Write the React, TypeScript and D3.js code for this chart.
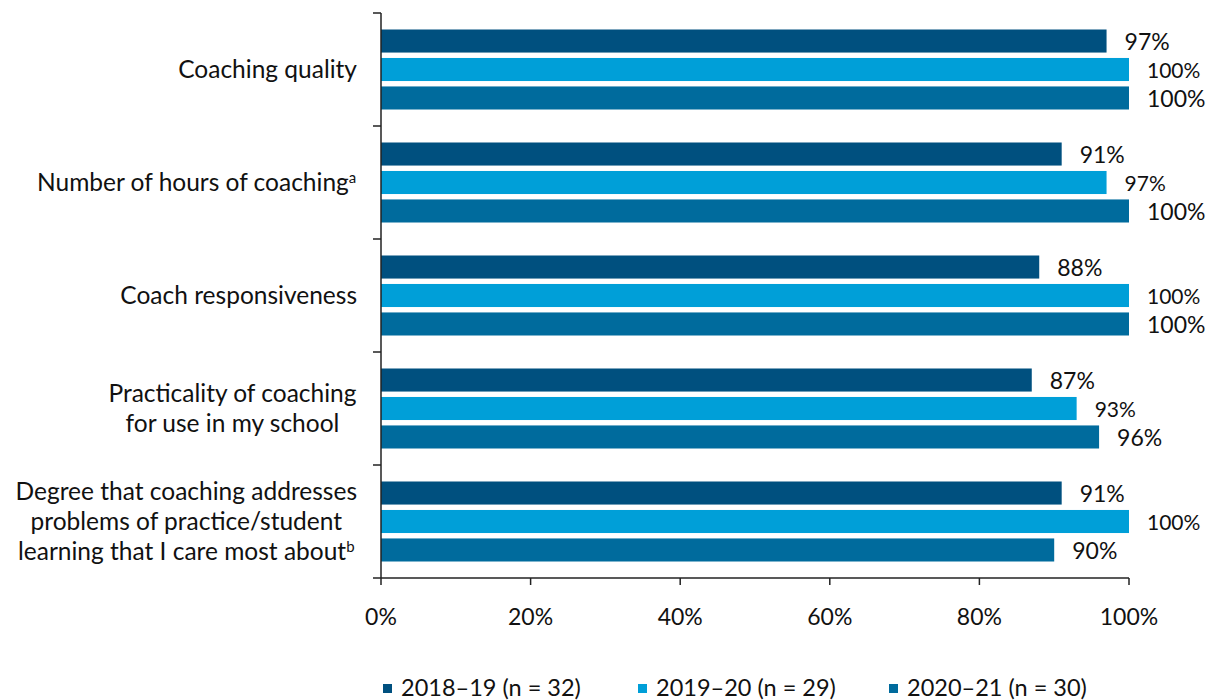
import React from "react";
import * as d3 from "d3";

const categories: string[][] = [
  ["Coaching quality"],
  ["Number of hours of coaching|a"],
  ["Coach responsiveness"],
  ["Practicality of coaching", "for use in my school"],
  ["Degree that coaching addresses", "problems of practice/student", "learning that I care most about|b"],
];
const seriesNames = ["2018–19 (n = 32)", "2019–20 (n = 29)", "2020–21 (n = 30)"];
const seriesColors = ["#00507F", "#009FD8", "#006B9D"];
const values2018 = [97, 91, 88, 87, 91];
const values2019 = [100, 97, 100, 93, 100];
const values2020 = [100, 100, 100, 96, 90];
const xTicks = [0, 20, 40, 60, 80, 100];

const FONT = "Lato, 'Liberation Sans', sans-serif";

let ctx: CanvasRenderingContext2D | null = null;
function measure(text: string, size: number): number {
  if (!ctx) ctx = document.createElement("canvas").getContext("2d");
  if (!ctx) return text.length * size * 0.5;
  ctx.font = `${size}px Lato`;
  return ctx.measureText(text).width;
}
function lineWidth(line: string, size: number, supSize: number): number {
  const [main, sup] = line.split("|");
  return measure(main, size) + (sup ? measure(sup, supSize) : 0);
}

export default function App() {
  const W = 1214, H = 700;
  const left = 381, right = 1129, top = 13, bottom = 578;
  const x = d3.scaleLinear().domain([0, 100]).range([left, right]);
  const y = d3
    .scaleBand<number>()
    .domain(categories.map((_, i) => i))
    .range([top, bottom])
    .paddingInner(0.292)
    .paddingOuter(0.146);
  const inner = d3
    .scaleBand<number>()
    .domain([0, 1, 2])
    .range([0, y.bandwidth()])
    .paddingInner(0.19)
    .paddingOuter(0);
  const series = [values2018, values2019, values2020];
  const step = y.step();
  const catSize = 24.5;
  const supSize = 15;
  const labelRight = 357;
  const lineH = 30;

  return (
    <svg width={W} height={H} style={{ position: "absolute", left: 0, top: 0, background: "#fff" }}>
      {/* bars */}
      {categories.map((_, ci) =>
        series.map((vals, si) => {
          const yy = (y(ci) as number) + (inner(si) as number);
          const bw = inner.bandwidth();
          const v = vals[ci];
          return (
            <g key={`${ci}-${si}`}>
              <rect x={x(0)} y={yy} width={x(v) - x(0)} height={bw} fill={seriesColors[si]} />
              <text
                x={x(v) + 18}
                y={yy + bw / 2 + 1}
                dy="0.35em"
                fontFamily={FONT}
                fontSize={si === 1 ? 21 : 23}
                fill="#111"
              >
                {v}%
              </text>
            </g>
          );
        })
      )}
      {/* category labels */}
      {categories.map((lines, ci) => {
        const cy = (y(ci) as number) + y.bandwidth() / 2;
        const widths = lines.map((l) => lineWidth(l, catSize, supSize));
        const blockW = Math.max(...widths);
        const cx = labelRight - blockW / 2;
        const n = lines.length;
        return (
          <text key={ci} fontFamily={FONT} fontSize={catSize} fill="#111" textAnchor="middle">
            {lines.map((l, li) => {
              const [main, sup] = l.split("|");
              return (
                <tspan key={li} x={cx} y={cy + (li - (n - 1) / 2) * lineH} dy="0.35em">
                  {main}
                  {sup ? (
                    <tspan fontSize={supSize} dy="-0.55em">
                      {sup}
                    </tspan>
                  ) : null}
                </tspan>
              );
            })}
          </text>
        );
      })}
      {/* y axis */}
      <line x1={left} x2={left} y1={top} y2={bottom} stroke="#222" strokeWidth={1.5} />
      {d3.range(categories.length + 1).map((i) => (
        <line
          key={i}
          x1={left - 8}
          x2={left}
          y1={top + i * step}
          y2={top + i * step}
          stroke="#222"
          strokeWidth={1.5}
        />
      ))}
      {/* x axis */}
      <line x1={left} x2={right} y1={bottom} y2={bottom} stroke="#222" strokeWidth={1.5} />
      {xTicks.map((t) => (
        <g key={t}>
          <line x1={x(t)} x2={x(t)} y1={bottom} y2={bottom + 7} stroke="#222" strokeWidth={1.5} />
          <text x={x(t)} y={617} dy="0.35em" textAnchor="middle" fontFamily={FONT} fontSize={23} fill="#111">
            {t}%
          </text>
        </g>
      ))}
      {/* legend */}
      {seriesNames.map((name, i) => {
        const lx = [383, 638, 889][i];
        return (
          <g key={name}>
            <rect x={lx} y={684} width={9} height={9} fill={seriesColors[i]} />
            <text x={lx + 18} y={688} dy="0.35em" fontFamily={FONT} fontSize={23.5} fill="#111">
              {name}
            </text>
          </g>
        );
      })}
    </svg>
  );
}
